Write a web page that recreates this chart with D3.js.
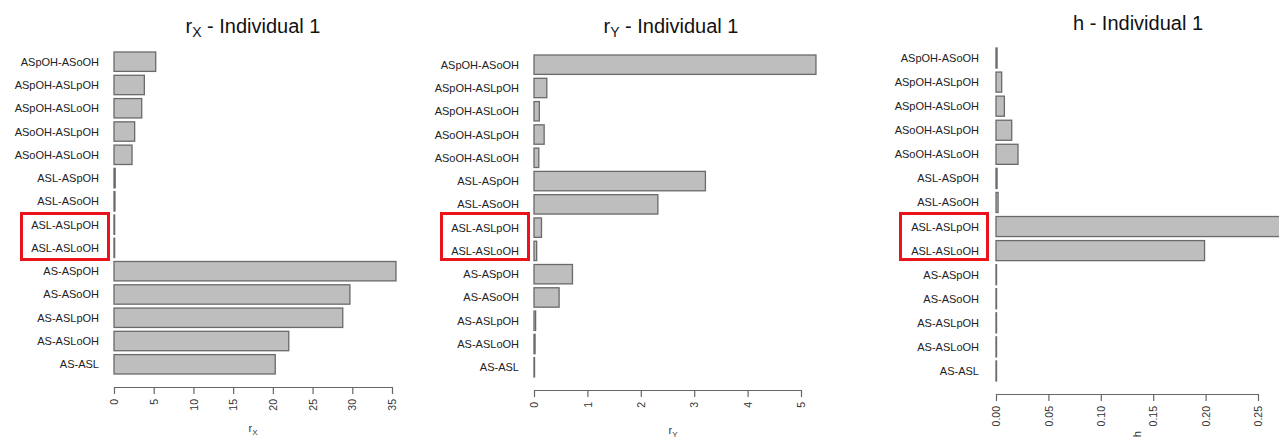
<!DOCTYPE html>
<html><head><meta charset="utf-8">
<script src="https://cdn.jsdelivr.net/npm/d3@7"></script>
<style>
body{margin:0;background:#fff;}
svg{display:block;font-family:"Liberation Sans",Arial,sans-serif;}
</style></head>
<body>
<svg id="c" width="1279" height="441"></svg>
<script>
const categories = ["ASpOH-ASoOH","ASpOH-ASLpOH","ASpOH-ASLoOH","ASoOH-ASLpOH","ASoOH-ASLoOH",
  "ASL-ASpOH","ASL-ASoOH","ASL-ASLpOH","ASL-ASLoOH","AS-ASpOH","AS-ASoOH","AS-ASLpOH","AS-ASLoOH","AS-ASL"];
const rxValues = [5.25,3.82,3.49,2.6,2.27,0.15,0.12,0.08,0.08,35.5,29.7,28.8,22.0,20.3];
const ryValues = [5.28,0.24,0.1,0.19,0.09,3.21,2.32,0.14,0.05,0.72,0.47,0.03,0.02,0.01];
const hValues  = [0.001,0.0054,0.008,0.015,0.021,0.001,0.002,0.29,0.199,0.0005,0.0005,0.0005,0.0005,0.0005];
const rxTicks = [0,5,10,15,20,25,30,35];
const ryTicks = [0,1,2,3,4,5];
const hTicks  = ["0.00","0.05","0.10","0.15","0.20","0.25"];
const highlighted = ["ASL-ASLpOH","ASL-ASLoOH"];

const svg = d3.select("#c");
const panels = [
  {vals: rxValues, ticks: rxTicks, fmt: d=>String(d), dom:[0,35], x0:114, x1:392, top:52, bot:374, axisY:387,
   titleMain:"r", titleSub:"X", titleX:253, titleY:33, xlabMain:"r", xlabSub:"X", xlabX:253, xlabY:432, labelX:99, box:[20,212,110,261]},
  {vals: ryValues, ticks: ryTicks, fmt: d=>String(d), dom:[0,5], x0:534, x1:801, top:55, bot:377, axisY:390,
   titleMain:"r", titleSub:"Y", titleX:671, titleY:33, xlabMain:"r", xlabSub:"Y", xlabX:673, xlabY:434, labelX:519, box:[440,212,530,261]},
  {vals: hValues, ticks: hTicks.map(Number), fmt: d=>d.toFixed(2), dom:[0,0.25], x0:996, x1:1258, top:48, bot:381, axisY:394,
   titleMain:"h", titleSub:null, titleX:1138, titleY:30, xlabMain:"h", xlabSub:null, xlabX:1137, xlabY:431, labelX:979, box:[899,212,989,261], rotXlab:true}
];

panels.forEach(p => {
  const x = d3.scaleLinear().domain(p.dom).range([p.x0, p.x1]);
  const y = d3.scaleBand().domain(categories).range([p.top, p.bot]).paddingInner(0.2/1.2).paddingOuter(0);
  const g = svg.append("g");
  g.selectAll("rect.bar").data(categories).join("rect")
    .attr("class","bar")
    .attr("x", x(0))
    .attr("y", d => y(d))
    .attr("width", (d,i) => Math.max(0, x(p.vals[i]) - x(0)))
    .attr("height", y.bandwidth())
    .attr("fill","#bebebe").attr("stroke","#6a6a6a").attr("stroke-width",1.3);
  g.selectAll("text.cat").data(categories).join("text")
    .attr("class","cat")
    .attr("x", p.labelX).attr("y", d => y(d) + y.bandwidth()/2 + 4)
    .attr("text-anchor","end").attr("font-size",11).attr("fill","#222").text(d=>d);
  const axis = d3.axisBottom(x).tickValues(p.ticks).tickFormat(p.fmt).tickSize(7).tickSizeOuter(0);
  const ag = g.append("g").attr("transform",`translate(0,${p.axisY})`).call(axis);
  ag.select(".domain").attr("stroke","#666").attr("stroke-width",1.2);
  ag.selectAll(".tick line").attr("stroke","#666").attr("stroke-width",1.2);
  ag.selectAll(".tick text")
    .attr("font-family","'Liberation Sans',Arial,sans-serif").attr("font-size",10.5).attr("fill","#333")
    .attr("transform","rotate(-90)").attr("text-anchor","end").attr("x",-12).attr("y",0).attr("dy","0.35em");
  const t = g.append("text").attr("x",p.titleX).attr("y",p.titleY).attr("text-anchor","middle")
    .attr("font-size",20).attr("fill","#111");
  t.append("tspan").text(p.titleMain);
  if (p.titleSub) t.append("tspan").attr("font-size",14).attr("dy",4).text(p.titleSub);
  t.append("tspan").attr("dy", p.titleSub ? -4 : 0).text(" - Individual 1");
  if (p.rotXlab) {
    g.append("text").attr("transform",`translate(${p.xlabX},${p.xlabY}) rotate(-90)`)
      .attr("text-anchor","end").attr("dy","0.35em").attr("font-size",11).attr("fill","#333").text(p.xlabMain);
  } else {
    const xl = g.append("text").attr("x",p.xlabX).attr("y",p.xlabY).attr("text-anchor","middle")
      .attr("font-size",11).attr("fill","#333");
    xl.append("tspan").text(p.xlabMain);
    xl.append("tspan").attr("font-size",8).attr("dy",3).text(p.xlabSub);
  }
  const b = p.box;
  g.append("rect").attr("x",b[0]+1.5).attr("y",b[1]+1.5).attr("width",b[2]-b[0]-3).attr("height",b[3]-b[1]-3)
    .attr("fill","none").attr("stroke","#e8131b").attr("stroke-width",3);
});
</script>
</body></html>
